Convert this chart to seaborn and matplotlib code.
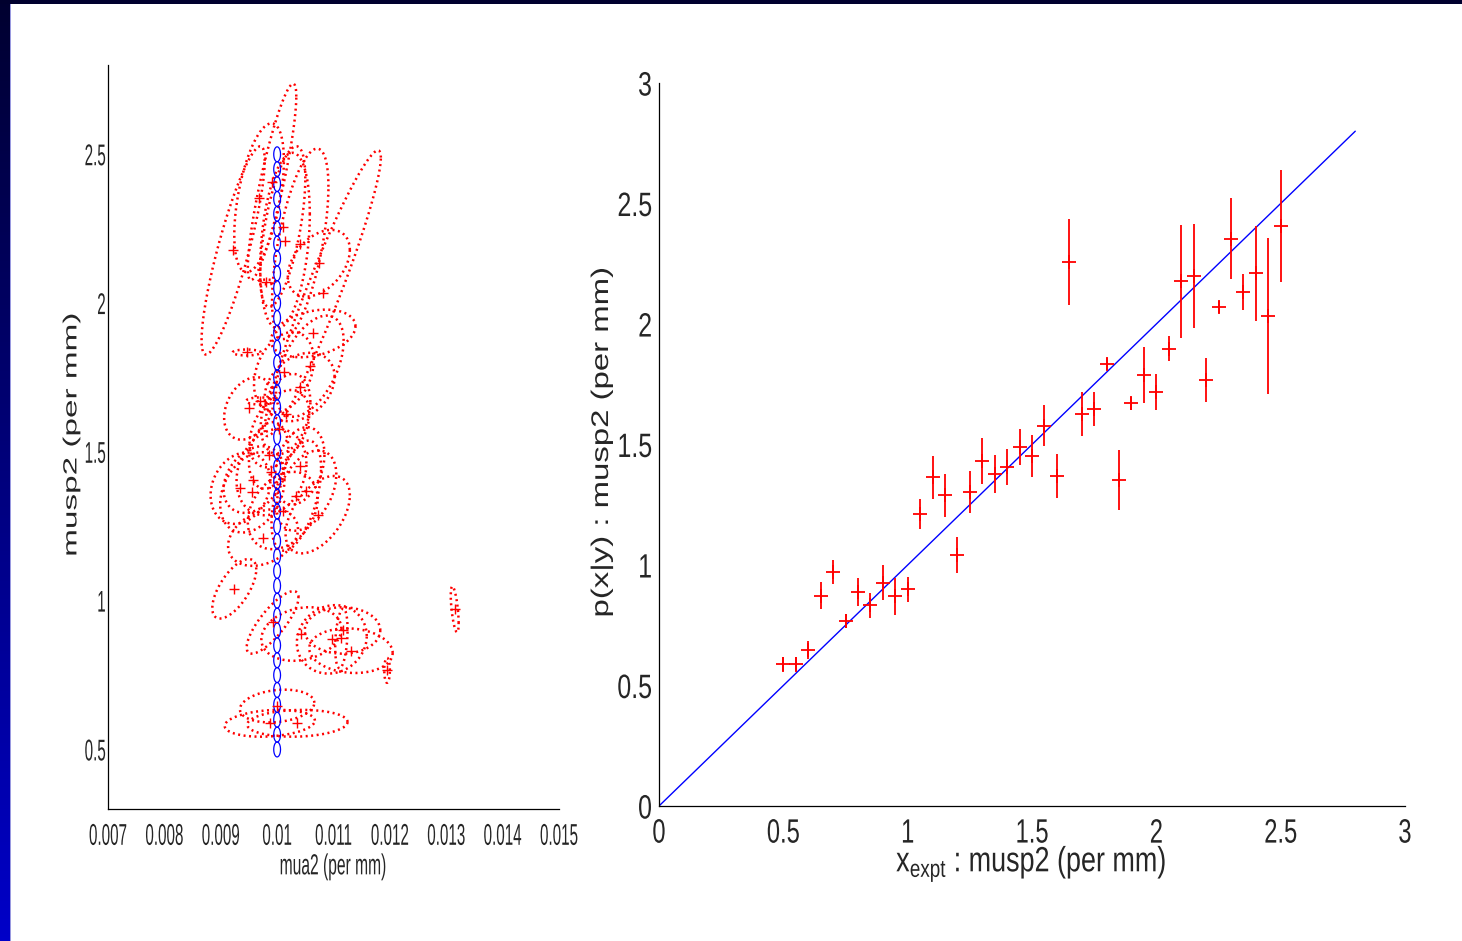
import numpy as np
import pandas as pd
import matplotlib
matplotlib.use("Agg")
import matplotlib.pyplot as plt
import seaborn as sns
from matplotlib.colors import LinearSegmentedColormap
from matplotlib.patheffects import AbstractPathEffect
from matplotlib.transforms import Affine2D

# ---------------- data ----------------
musp_true = [0.50, 0.55, 0.60, 0.65, 0.70, 0.75, 0.80, 0.85, 0.90, 0.95,
             1.00, 1.05, 1.10, 1.15, 1.20, 1.25, 1.30, 1.35, 1.40, 1.45,
             1.50, 1.55, 1.60, 1.65, 1.70, 1.75, 1.80, 1.85, 1.90, 1.95,
             2.00, 2.05, 2.10, 2.15, 2.20, 2.25, 2.30, 2.35, 2.40, 2.45, 2.50]
musp_est = [0.588, 0.588, 0.646, 0.873, 0.971, 0.766, 0.888, 0.832, 0.927, 0.870,
            0.900, 1.212, 1.364, 1.289, 1.040, 1.303, 1.432, 1.378, 1.407, 1.488,
            1.453, 1.578, 1.370, 2.257, 1.627, 1.646, 1.834, 1.353, 1.671, 1.788,
            1.718, 1.898, 2.177, 2.199, 1.768, 2.071, 2.354, 2.134, 2.210, 2.033, 2.407]
musp_err = [0.030, 0.030, 0.037, 0.055, 0.050, 0.029, 0.060, 0.050, 0.071, 0.077,
            0.052, 0.063, 0.090, 0.088, 0.075, 0.087, 0.097, 0.080, 0.075, 0.075,
            0.086, 0.086, 0.090, 0.180, 0.090, 0.071, 0.026, 0.125, 0.026, 0.115,
            0.076, 0.053, 0.234, 0.215, 0.090, 0.026, 0.167, 0.075, 0.197, 0.322, 0.234]
mua_est = [0.00987, 0.01036, 0.01000, 0.01114, 0.01315, 0.01195, 0.01043, 0.01131, 0.00992, 0.01097,
           0.01116, 0.00975, 0.00956, 0.01072, 0.00924, 0.01010, 0.00990, 0.00935, 0.00958, 0.00985,
           0.01040, 0.01004, 0.01052, 0.01010, 0.01015, 0.00950, 0.00946, 0.01034, 0.00970, 0.01058,
           0.01040, 0.01064, 0.00922, 0.01041, 0.01012, 0.00981, 0.00968, 0.01074, 0.01014, 0.01081, 0.00991]
# ellipse half extents (mua, musp) and correlation
ell_mua = [0.00080, 0.00089, 0.00066, 0.00011, 0.00007, 0.00005, 0.00071, 0.00074, 0.00046, 0.00062,
           0.00067, 0.00062, 0.00057, 0.00057, 0.00039, 0.00062, 0.00062, 0.00053, 0.00053, 0.00035,
           0.00044, 0.00053, 0.00053, 0.00040, 0.00044, 0.00044, 0.00025, 0.00044, 0.00025, 0.00060,
           0.00062, 0.00075, 0.00056, 0.00050, 0.00053, 0.00016, 0.00044, 0.00055, 0.00044, 0.00103, 0.00043]
ell_musp = [0.045, 0.045, 0.055, 0.100, 0.077, 0.042, 0.090, 0.075, 0.105, 0.115,
            0.078, 0.095, 0.135, 0.130, 0.100, 0.130, 0.145, 0.120, 0.112, 0.112,
            0.130, 0.130, 0.135, 0.270, 0.135, 0.105, 0.010, 0.185, 0.012, 0.170,
            0.115, 0.080, 0.350, 0.320, 0.135, 0.008, 0.250, 0.112, 0.295, 0.480, 0.330]
ell_rho = [0.2, 0.1, 0.2, 0.3, -0.6, 0.0, 0.2, -0.1, 0.8, 0.1,
           0.0, 0.3, 0.3, 0.5, 0.65, 0.3, 0.2, 0.2, 0.3, 0.2,
           0.3, 0.4, 0.4, 0.6, 0.3, 0.3, 0.0, 0.5, 0.0, 0.5,
           0.3, 0.3, 0.86, 0.6, 0.3, 0.0, 0.5, 0.4, 0.3, 0.95, 0.87]
mua_true = 0.01
truth_mua_half = 0.00006
truth_musp_half = 0.025
diag_x = [0.0, 2.8]

left_xticks = [0.007, 0.008, 0.009, 0.010, 0.011, 0.012, 0.013, 0.014, 0.015]
left_xticklabels = ["0.007", "0.008", "0.009", "0.01", "0.011", "0.012", "0.013", "0.014", "0.015"]
left_yticks = [0.5, 1.0, 1.5, 2.0, 2.5]
left_yticklabels = ["0.5", "1", "1.5", "2", "2.5"]
right_ticks = [0, 0.5, 1, 1.5, 2, 2.5, 3]
right_ticklabels = ["0", "0.5", "1", "1.5", "2", "2.5", "3"]


# ---------------- helpers ----------------
class Stretch(AbstractPathEffect):
    """Render text glyphs stretched (the source slide was scaled anisotropically)."""

    def __init__(self, sx=1.0, sy=1.0, anchor_x="center", anchor_y="center"):
        super().__init__(offset=(0, 0))
        self.sx, self.sy = sx, sy
        self.anchor_x, self.anchor_y = anchor_x, anchor_y

    def draw_path(self, renderer, gc, tpath, affine, rgbFace=None):
        ext = tpath.get_extents()
        cx = {"center": (ext.x0 + ext.x1) / 2, "left": ext.x0, "right": ext.x1}[self.anchor_x]
        cy = {"center": (ext.y0 + ext.y1) / 2, "bottom": ext.y0, "top": ext.y1}[self.anchor_y]
        pre = Affine2D().translate(-cx, -cy).scale(self.sx, self.sy).translate(cx, cy)
        renderer.draw_path(gc, tpath, pre + affine, rgbFace)


def ellipse_frame(cx, cy, hx, hy, rho, ids, n=240):
    t = np.linspace(0, 2 * np.pi, n)
    rows = []
    for i, (a, b, c, d, r) in enumerate(zip(cx, cy, hx, hy, rho)):
        xs = a + c * np.cos(t)
        ys = b + d * (r * np.cos(t) + np.sqrt(1 - r * r) * np.sin(t))
        rows.append(pd.DataFrame({"id": f"{ids}{i}", "mua": xs, "musp": ys}))
    return pd.concat(rows, ignore_index=True)


def style_axes(ax):
    for side in ["top", "right"]:
        ax.spines[side].set_visible(False)
    for side in ["left", "bottom"]:
        ax.spines[side].set_color("black")
        ax.spines[side].set_linewidth(0.9)
    ax.tick_params(direction="in", length=6, width=0.9, color="#444444")
    ax.set_facecolor("white")
    ax.grid(False)


# ---------------- style ----------------
sns.set_theme(style="white")
plt.rcParams["font.family"] = ["Liberation Sans", "DejaVu Sans"]
plt.rcParams["mathtext.fontset"] = "custom"
plt.rcParams["mathtext.rm"] = "Liberation Sans"

W, H = 1462, 941
fig = plt.figure(figsize=(W / 100, H / 100), dpi=100)
fig.patch.set_facecolor("white")

# slide frame: left gradient strip and top bar
ax_strip = fig.add_axes([0, 0, 9.5 / W, 1])
grad = np.linspace(0, 1, 256).reshape(-1, 1)
cm = LinearSegmentedColormap.from_list("frame", ["#0000c8", "#000030"])
ax_strip.imshow(grad, aspect="auto", cmap=cm, origin="lower", extent=[0, 1, 0, 1])
ax_strip.set_axis_off()
ax_line = fig.add_axes([9.5 / W, 0, 1.2 / W, 1 - 3.5 / H])
ax_line.set_facecolor("#9a9ae0")
ax_line.set_xticks([]); ax_line.set_yticks([])
for s in ax_line.spines.values():
    s.set_visible(False)
ax_top = fig.add_axes([0, 1 - 3.5 / H, 1, 3.5 / H])
ax_top.set_facecolor("#00002e")
ax_top.set_xticks([]); ax_top.set_yticks([])
for s in ax_top.spines.values():
    s.set_visible(False)

# ---------------- left panel ----------------
axL = fig.add_axes([108 / W, 1 - 809 / H, 451 / W, 744 / H])
style_axes(axL)

red_df = ellipse_frame(mua_est, musp_est, ell_mua, ell_musp, ell_rho, "r")
sns.lineplot(data=red_df, x="mua", y="musp", units="id", estimator=None, sort=False,
             color="red", lw=1.8, linestyle=(0, (0.8, 1.4)), ax=axL, legend=False)

n = len(musp_true)
blue_df = ellipse_frame([mua_true] * n, musp_true, [truth_mua_half] * n,
                        [truth_musp_half] * n, [0.0] * n, "b", n=80)
sns.lineplot(data=blue_df, x="mua", y="musp", units="id", estimator=None, sort=False,
             color="blue", lw=0.9, ax=axL, legend=False)

sns.scatterplot(x=mua_est, y=musp_est, marker="+", s=60, color="red", linewidth=1.0,
                ax=axL, legend=False, zorder=5)

axL.set_xlim(0.007, 0.015)
axL.set_ylim(0.3, 2.8)
axL.set_xticks(left_xticks)
axL.set_xticklabels(left_xticklabels, fontsize=14.4)
axL.set_yticks(left_yticks)
axL.set_yticklabels(left_yticklabels, fontsize=14.4)
axL.tick_params(axis="x", pad=12.5)
axL.tick_params(axis="y", pad=1.5)
for lab in axL.get_xticklabels():
    lab.set_path_effects([Stretch(0.76, 1.5)])
for lab in axL.get_yticklabels():
    lab.set_path_effects([Stretch(0.76, 1.5, anchor_x="right")])
axL.set_xlabel("mua2 (per mm)", fontsize=14.4)
axL.xaxis.label.set_va("center")
axL.xaxis.set_label_coords(0.499, -0.0773)
axL.xaxis.label.set_path_effects([Stretch(0.78, 1.45)])
axL.set_ylabel("musp2 (per mm)", fontsize=13.7)
axL.yaxis.label.set_va("center")
axL.yaxis.set_label_coords(-0.080, 0.503)
axL.yaxis.label.set_path_effects([Stretch(1.75, 1.0)])

# ---------------- right panel ----------------
axR = fig.add_axes([659 / W, 1 - 806 / H, 746 / W, 723 / H])
style_axes(axR)
sns.lineplot(x=diag_x, y=diag_x, color="blue", lw=1.0, ax=axR, legend=False)
axR.errorbar(musp_true, musp_est, yerr=musp_err, fmt="none", ecolor="red",
             elinewidth=1.3, capsize=0, zorder=4)
sns.scatterplot(x=musp_true, y=musp_est, marker="+", s=90, color="red", linewidth=1.3,
                ax=axR, legend=False, zorder=5)
axR.set_xlim(0, 3)
axR.set_ylim(0, 3)
axR.set_xticks(right_ticks)
axR.set_xticklabels(right_ticklabels, fontsize=18)
axR.set_yticks(right_ticks)
axR.set_yticklabels(right_ticklabels, fontsize=18)
axR.tick_params(axis="x", pad=10.5)
axR.tick_params(axis="y", pad=5)
for lab in axR.get_xticklabels():
    lab.set_path_effects([Stretch(0.95, 1.35)])
for lab in axR.get_yticklabels():
    lab.set_path_effects([Stretch(1.0, 1.35, anchor_x="right")])
axR.set_xlabel(r"$\mathregular{x_{expt}}$ : musp2 (per mm)", fontsize=19.4)
axR.xaxis.label.set_va("top")
axR.xaxis.set_label_coords(0.4987, -0.058)
axR.xaxis.label.set_path_effects([Stretch(1.0, 1.3)])
axR.set_ylabel("p(x|y) : musp2 (per mm)", fontsize=17.3)
axR.yaxis.label.set_va("center")
axR.yaxis.set_label_coords(-0.0764, 0.5028)
axR.yaxis.label.set_path_effects([Stretch(1.37, 1.0)])

fig.savefig("out.png", dpi=100, facecolor="white")
